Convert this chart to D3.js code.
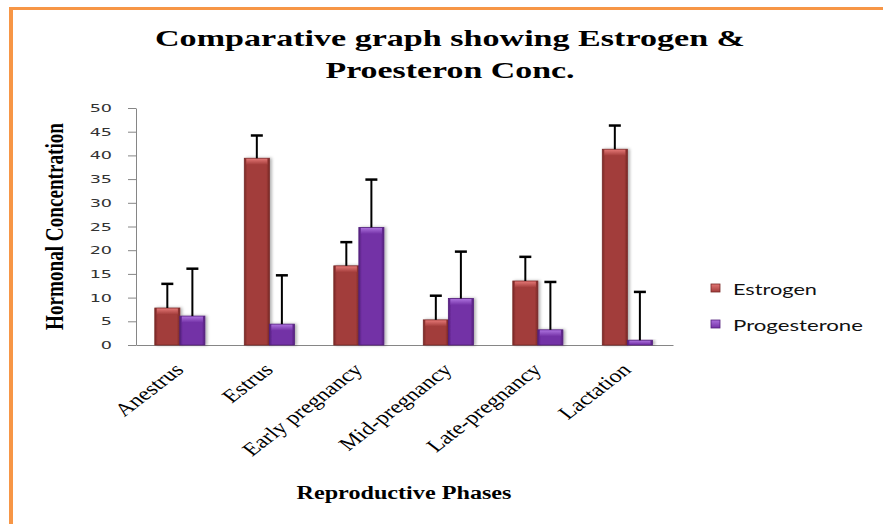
<!DOCTYPE html>
<html>
<head>
<meta charset="utf-8">
<script src="https://cdn.jsdelivr.net/npm/d3@7"></script>
<style>
  body { margin: 0; background: #fff; }
  svg { display: block; }
</style>
</head>
<body>
<div id="app"></div>
<script>
const categories = ["Anestrus", "Estrus", "Early pregnancy", "Mid-pregnancy", "Late-pregnancy", "Lactation"];
const seriesNames = ["Estrogen", "Progesterone"];
const estrogen = [7.8, 39.4, 16.7, 5.3, 13.5, 41.3];
const estrogenErr = [5.1, 4.8, 5.0, 5.1, 5.1, 5.0];
const progesterone = [6.1, 4.4, 24.8, 9.8, 3.2, 1.0];
const progesteroneErr = [10.0, 10.3, 10.1, 9.9, 10.1, 10.2];
const yTicks = [0, 5, 10, 15, 20, 25, 30, 35, 40, 45, 50];

const width = 883, height = 524;
const margin = {top: 108, right: 210, bottom: 179, left: 136};

// colours per series: body, edge, top highlight
const palette = [
  {body: "#a23c3a", edge: "#782827", top: "#e27674"},
  {body: "#7331a6", edge: "#53207c", top: "#ab70dc"}
];

const rows = categories.map((c, i) => ({
  category: c,
  values: [
    {key: 0, value: estrogen[i], err: estrogenErr[i]},
    {key: 1, value: progesterone[i], err: progesteroneErr[i]}
  ]
}));

const x0 = d3.scaleBand()
    .domain(categories)
    .range([margin.left, width - margin.right])
    .padding(0);

const x1 = d3.scaleBand()
    .domain([0, 1])
    .range([x0.bandwidth() * 0.21, x0.bandwidth() * 0.77])
    .padding(0);

const y = d3.scaleLinear()
    .domain([0, 50])
    .range([height - margin.bottom, margin.top]);

const svg = d3.select("#app").append("svg")
    .attr("width", width)
    .attr("height", height)
    .attr("viewBox", [0, 0, width, height]);

const defs = svg.append("defs");

palette.forEach((p, i) => {
  const g = defs.append("linearGradient").attr("id", "body" + i)
      .attr("x1", 0).attr("x2", 1).attr("y1", 0).attr("y2", 0);
  g.append("stop").attr("offset", "0%").attr("stop-color", p.edge);
  g.append("stop").attr("offset", "12%").attr("stop-color", p.body);
  g.append("stop").attr("offset", "88%").attr("stop-color", p.body);
  g.append("stop").attr("offset", "100%").attr("stop-color", p.edge);

  const t = defs.append("linearGradient").attr("id", "top" + i)
      .attr("x1", 0).attr("x2", 0).attr("y1", 0).attr("y2", 1);
  t.append("stop").attr("offset", "0%").attr("stop-color", p.top);
  t.append("stop").attr("offset", "100%").attr("stop-color", p.body);
});

defs.append("filter").attr("id", "shadow")
    .attr("x", "-20%").attr("y", "-20%").attr("width", "150%").attr("height", "140%")
  .append("feDropShadow")
    .attr("dx", 2).attr("dy", 0).attr("stdDeviation", 1.5)
    .attr("flood-color", "#000").attr("flood-opacity", 0.3);

// orange frame
svg.append("rect").attr("x", 9).attr("y", 7).attr("width", width - 9).attr("height", 3).attr("fill", "#f79646");
svg.append("rect").attr("x", 9).attr("y", 7).attr("width", 4).attr("height", height - 7).attr("fill", "#f79646");

// title
svg.append("g")
    .attr("font-family", "'Liberation Serif', 'Times New Roman', serif")
    .attr("font-weight", "bold")
    .attr("font-size", 23)
    .attr("text-anchor", "middle")
  .selectAll("text")
  .data([["Comparative graph showing Estrogen &", 46, 590], ["Proesteron Conc.", 78, 249]])
  .join("text")
    .attr("x", 450)
    .attr("y", d => d[1])
    .attr("textLength", d => d[2])
    .attr("lengthAdjust", "spacingAndGlyphs")
    .text(d => d[0]);

// y axis
const yAxis = svg.append("g")
    .attr("transform", `translate(${margin.left},0)`)
    .call(d3.axisLeft(y).tickValues(yTicks).tickSize(8).tickSizeOuter(0));
yAxis.select(".domain").attr("stroke", "#868686");
yAxis.selectAll(".tick line").attr("stroke", "#868686");
yAxis.selectAll(".tick text")
    .attr("x", 0)
    .attr("fill", "#333")
    .attr("font-family", "'DejaVu Sans', Verdana, sans-serif")
    .attr("font-size", 11)
    .attr("transform", "translate(-24,0) scale(1.6,1)");

// x axis
const xAxis = svg.append("g")
    .attr("transform", `translate(0,${y(0)})`)
    .call(d3.axisBottom(x0).tickSize(0).tickSizeOuter(0));
xAxis.select(".domain").attr("stroke", "#868686");
xAxis.selectAll(".tick text")
    .attr("y", 0).attr("dy", 0)
    .attr("fill", "#000")
    .attr("font-family", "'Liberation Serif', 'Times New Roman', serif")
    .attr("font-size", 18.5)
    .attr("text-anchor", "end")
    .attr("transform", "translate(4,26) scale(1.3,1) rotate(-45)");

// bars
const group = svg.append("g")
  .selectAll("g")
  .data(rows)
  .join("g")
    .attr("transform", d => `translate(${x0(d.category)},0)`);

const bar = group.selectAll("g.bar")
  .data(d => d.values)
  .join("g")
    .attr("class", "bar");

bar.append("rect")
    .attr("x", d => x1(d.key))
    .attr("y", d => y(d.value))
    .attr("width", x1.bandwidth())
    .attr("height", d => y(0) - y(d.value))
    .attr("fill", d => `url(#body${d.key})`)
    .attr("stroke", d => palette[d.key].edge)
    .attr("stroke-width", 0.8)
    .attr("filter", "url(#shadow)");

bar.append("rect")
    .attr("x", d => x1(d.key) + 2)
    .attr("y", d => y(d.value) + 0.5)
    .attr("width", x1.bandwidth() - 4)
    .attr("height", d => Math.min(6, y(0) - y(d.value) - 1))
    .attr("fill", d => `url(#top${d.key})`);

// error bars (upper only)
bar.append("line")
    .attr("x1", d => x1(d.key) + x1.bandwidth() / 2)
    .attr("x2", d => x1(d.key) + x1.bandwidth() / 2)
    .attr("y1", d => y(d.value))
    .attr("y2", d => y(d.value + d.err))
    .attr("stroke", "#000")
    .attr("stroke-width", 2);

bar.append("line")
    .attr("x1", d => x1(d.key) + x1.bandwidth() / 2 - 6)
    .attr("x2", d => x1(d.key) + x1.bandwidth() / 2 + 6)
    .attr("y1", d => y(d.value + d.err))
    .attr("y2", d => y(d.value + d.err))
    .attr("stroke", "#000")
    .attr("stroke-width", 2.5);

// axis titles
svg.append("text")
    .attr("transform", "translate(63,226.5) scale(1.35,1) rotate(-90)")
    .attr("text-anchor", "middle")
    .attr("font-family", "'Liberation Serif', 'Times New Roman', serif")
    .attr("font-weight", "bold")
    .attr("font-size", 19)
    .attr("textLength", 207)
    .attr("lengthAdjust", "spacingAndGlyphs")
    .text("Hormonal Concentration");

svg.append("text")
    .attr("x", 404)
    .attr("y", 499)
    .attr("text-anchor", "middle")
    .attr("font-family", "'Liberation Serif', 'Times New Roman', serif")
    .attr("font-weight", "bold")
    .attr("font-size", 18)
    .attr("textLength", 215)
    .attr("lengthAdjust", "spacingAndGlyphs")
    .text("Reproductive Phases");

// legend
const legend = svg.append("g")
  .selectAll("g")
  .data(seriesNames)
  .join("g")
    .attr("transform", (d, i) => `translate(711,${284 + i * 36})`);

legend.append("rect")
    .attr("width", 9)
    .attr("height", 8)
    .attr("fill", (d, i) => `url(#top${i})`)
    .attr("stroke", (d, i) => palette[i].edge)
    .attr("stroke-width", 0.8);

legend.append("text")
    .attr("x", 22)
    .attr("y", 11)
    .attr("font-family", "Lato, 'Open Sans', sans-serif")
    .attr("font-size", 16)
    .attr("fill", "#111")
    .attr("textLength", (d, i) => i ? 130 : 84)
    .attr("lengthAdjust", "spacingAndGlyphs")
    .text(d => d);
</script>
</body>
</html>
